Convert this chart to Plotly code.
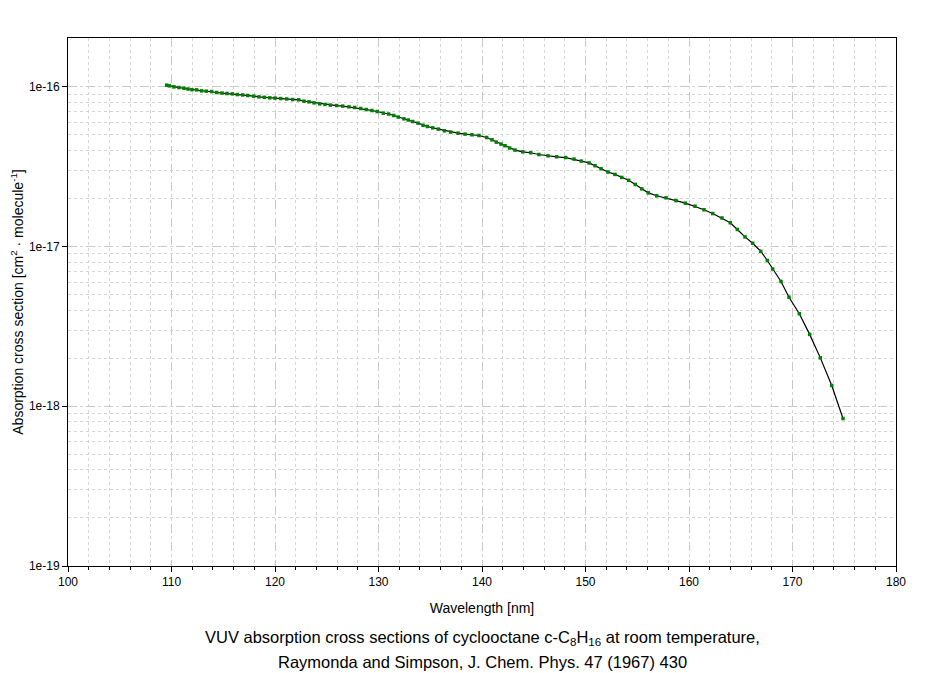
import plotly.graph_objects as go

# Wavelength [nm] and cross section [1e-17 cm^2/molecule]
wavelength = [
    109.53, 109.79, 110.24, 110.72, 111.21, 111.59, 111.98, 112.43, 112.91, 113.36,
    113.88, 114.36, 114.88, 115.36, 115.88, 116.36, 116.88, 117.36, 117.94, 118.45,
    118.97, 119.49, 120.00, 120.55, 121.13, 121.71, 122.29, 122.80, 123.29, 123.77,
    124.32, 124.83, 125.35, 125.96, 126.54, 127.15, 127.70, 128.28, 128.82, 129.37,
    129.88, 130.46, 130.98, 131.47, 131.91, 132.46, 132.88, 133.30, 133.82, 134.30,
    134.72, 135.24, 135.78, 136.36, 136.97, 137.68, 138.36, 139.03, 139.71, 140.45,
    140.97, 141.38, 141.84, 142.22, 142.67, 143.19, 143.93, 144.70, 145.50, 146.38,
    147.21, 148.08, 148.89, 149.60, 150.34, 150.92, 151.50, 152.17, 152.85, 153.50,
    154.17, 154.81, 155.43, 156.07, 156.88, 157.78, 158.74, 159.65, 160.58, 161.45,
    162.29, 163.19, 163.99, 164.67, 165.41, 166.15, 166.93, 167.57, 168.08, 168.89,
    169.66, 170.66, 171.66, 172.69, 173.79, 174.88,
]
sigma_e17 = [
    10.25, 10.15, 10.0, 9.9, 9.8, 9.7, 9.6, 9.58, 9.44, 9.4,
    9.35, 9.22, 9.14, 9.09, 9.04, 8.95, 8.9, 8.83, 8.75, 8.66,
    8.6, 8.54, 8.5, 8.45, 8.4, 8.33, 8.3, 8.14, 8.06, 7.94,
    7.83, 7.76, 7.69, 7.64, 7.58, 7.50, 7.43, 7.32, 7.21, 7.11,
    7.01, 6.85, 6.76, 6.62, 6.47, 6.31, 6.2, 6.07, 5.93, 5.75,
    5.65, 5.54, 5.44, 5.31, 5.21, 5.13, 5.06, 5.01, 4.96, 4.82,
    4.66, 4.51, 4.38, 4.28, 4.14, 4.02, 3.92, 3.87, 3.77, 3.70,
    3.65, 3.61, 3.53, 3.43, 3.34, 3.21, 3.07, 2.93, 2.83, 2.71,
    2.60, 2.45, 2.30, 2.17, 2.08, 2.02, 1.94, 1.87, 1.79, 1.70,
    1.61, 1.51, 1.41, 1.28, 1.15, 1.05, 0.935, 0.818, 0.724, 0.605,
    0.482, 0.38, 0.282, 0.201, 0.135, 0.0838,
]
sigma = [s * 1e-17 for s in sigma_e17]

y_tickvals = [1e-19, 1e-18, 1e-17, 1e-16]
y_ticktext = ["1e-19", "1e-18", "1e-17", "1e-16"]
x_tickvals = list(range(100, 181, 10))

caption = [
    "VUV absorption cross sections of cyclooctane c-C<sub>8</sub>H<sub>16</sub> at room temperature,",
    "Raymonda and Simpson, J. Chem. Phys. 47 (1967) 430",
]

FONT = "Liberation Sans, Arial, sans-serif"
grid_color = "#c8c8c8"
minor_color = "#d4d4d4"

fig = go.Figure()
fig.add_trace(go.Scatter(
    x=wavelength, y=sigma, mode="lines+markers",
    line=dict(color="black", width=1.2),
    marker=dict(symbol="square", size=3.5, color="#008000"),
    showlegend=False,
))

# page body has an 8px margin (top/left), so the figure is a bit smaller than the window
fig.update_layout(
    width=926, height=665,
    margin=dict(l=60, r=38, t=30, b=107, autoexpand=False),
    paper_bgcolor="white", plot_bgcolor="white",
    font=dict(family=FONT, size=12, color="black"),
    xaxis=dict(
        range=[100, 180], tickvals=x_tickvals,
        showline=True, linecolor="black", linewidth=1, mirror=True,
        ticks="outside", ticklen=5, tickcolor="black",
        showgrid=True, gridcolor=grid_color, griddash="dash", gridwidth=1,
        minor=dict(dtick=2, showgrid=True, gridcolor=minor_color, griddash="dot",
                   ticks="outside", ticklen=3, tickcolor="black"),
        zeroline=False,
        title=dict(text="Wavelength [nm]", standoff=14),
    ),
    yaxis=dict(
        type="log", range=[-19, -15.694],
        tickvals=y_tickvals, ticktext=y_ticktext,
        showline=True, linecolor="black", linewidth=1, mirror=True,
        ticks="outside", ticklen=5, tickcolor="black",
        showgrid=True, gridcolor=grid_color, griddash="dash", gridwidth=1,
        minor=dict(dtick="D1", showgrid=True, gridcolor=minor_color, griddash="dot",
                   ticks=""),
        zeroline=False,
        title=dict(text="Absorption cross section [cm<sup>2</sup> · molecule<sup>-1</sup>]",
                   standoff=10),
    ),
)

for i, line in enumerate(caption):
    fig.add_annotation(
        text=line, x=0.5, y=-0.136 - 0.046 * i, xref="paper", yref="paper",
        showarrow=False, font=dict(size=16.5), yanchor="middle",
    )

fig.write_html("out.html")
